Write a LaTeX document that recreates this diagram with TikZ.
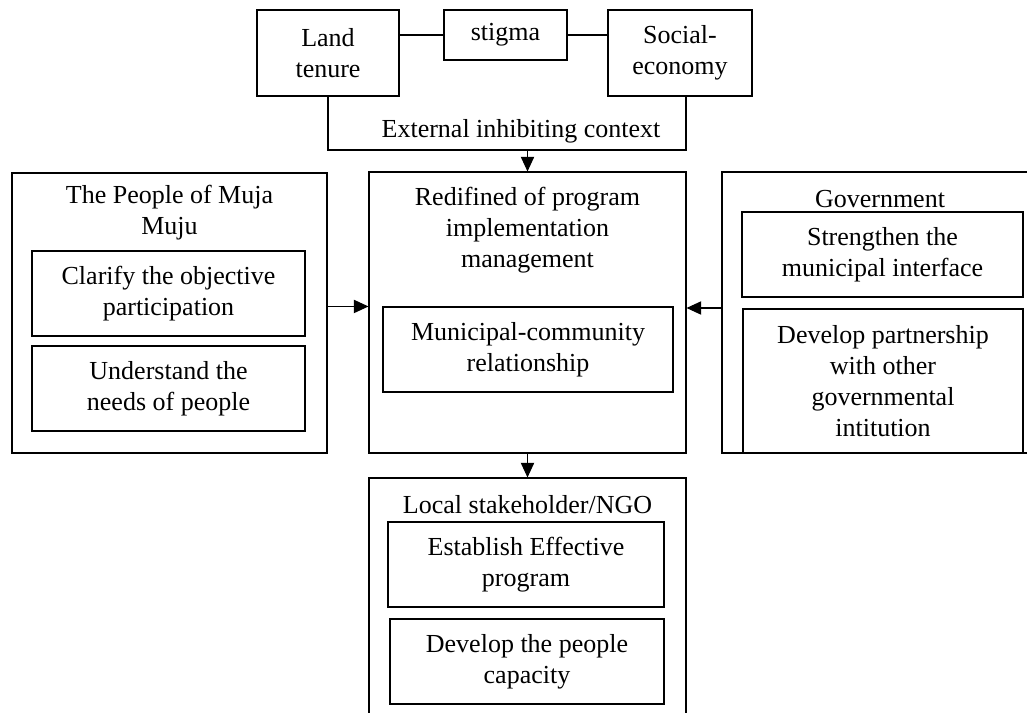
\documentclass[tikz,border=0pt]{standalone}
\usepackage{fontspec}
\setmainfont{Liberation Serif}
\usetikzlibrary{arrows.meta}
\tikzset{
  box/.style={draw, line width=0.8pt, inner sep=0pt, align=center, font=\fontsize{19.5}{23.3}\selectfont},
  lbl/.style={inner sep=0pt, align=center, font=\fontsize{19.5}{23.3}\selectfont},
  conn/.style={line width=0.8pt},
  arr/.style={line width=0.8pt, -{Triangle[length=11pt,width=10pt]}}
}
\begin{document}
\begin{tikzpicture}[x=0.75pt,y=-0.75pt]
\path[use as bounding box] (0,0) rectangle (1027,713);
\clip (0,0) rectangle (1027,713);
% top row
\node[box, minimum width=106.5pt, minimum height=64.5pt] (land) at (328,53) {Land\\tenure};
\node[box, minimum width=92.25pt, minimum height=37.5pt] (stigma) at (505.5,35) {stigma};
\node[box, minimum width=108pt, minimum height=64.5pt] (social) at (680,53) {Social-\\economy};
\draw[conn] (stigma.west) -- (stigma.west -| land.east);
\draw[conn] (stigma.east) -- (stigma.east -| social.west);
% bracket
\coordinate (bl) at (328,150);
\coordinate (br) at (686,150);
\draw[conn] (land.south) -- (bl) -- (br) -- (br |- social.south);
\node[lbl] (ext) at (521,131) {External inhibiting context};
% center
\node[box, minimum width=237.75pt, minimum height=210.75pt] (center) at (527.5,312.5) {};
\node[lbl] (ctitle) at (527.5,230) {Redifined of program\\implementation\\management};
\node[box, minimum width=217.5pt, minimum height=63.75pt] (muni) at (528,349.5) {Municipal-community\\relationship};
\draw[arr] (center.north |- bl) -- (center.north);
% left
\node[box, minimum width=236.25pt, minimum height=210pt] (left) at (169.5,313) {};
\node[lbl] (ltitle) at (169.5,213) {The People of Muja\\Muju};
\node[box, minimum width=204.75pt, minimum height=63.75pt] (clarify) at (168.5,293.5) {Clarify the objective\\participation};
\node[box, minimum width=204.75pt, minimum height=63.75pt] (understand) at (168.5,388.5) {Understand the\\needs of people};
\draw[arr] (left.east |- muni.north) -- (center.west |- muni.north);
% right
\node[box, minimum width=234.75pt, minimum height=210.75pt] (gov) at (878.5,312.5) {};
\node[lbl] (gtitle) at (880,199) {Government};
\node[box, minimum width=210.75pt, minimum height=63.75pt] (strength) at (882.5,254.5) {Strengthen the\\municipal interface};
\node[box, minimum width=210pt, minimum height=108pt] (devpart) at (883,381) {Develop partnership\\with other\\governmental\\intitution};
\coordinate (ga) at (722,308);
\draw[arr] (gov.west |- ga) -- (center.east |- ga);
% bottom
\node[box, minimum width=237.75pt, minimum height=189pt] (bottom) at (527.5,604) {};
\node[lbl] (btitle) at (527.5,505) {Local stakeholder/NGO};
\node[box, minimum width=207pt, minimum height=63.75pt] (establish) at (526,564.5) {Establish Effective\\program};
\node[box, minimum width=205.5pt, minimum height=63.75pt] (devpeople) at (527,661.5) {Develop the people\\capacity};
\draw[arr] (center.south) -- (bottom.north);
\end{tikzpicture}
\end{document}
